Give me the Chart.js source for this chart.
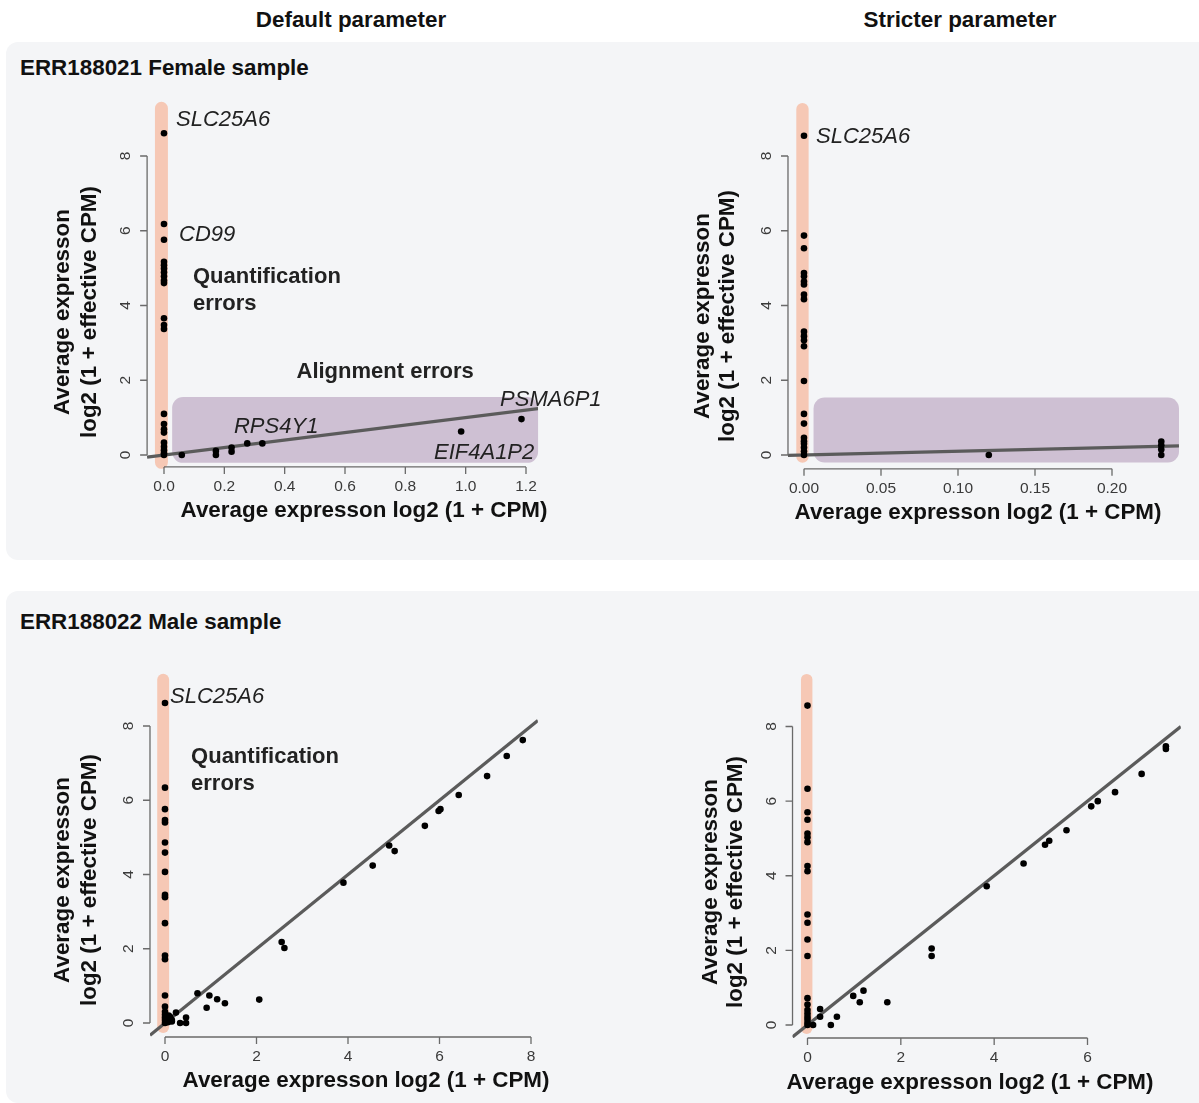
<!DOCTYPE html>
<html>
<head>
<meta charset="utf-8">
<script src="https://cdn.jsdelivr.net/npm/chart.js@4.4.0/dist/chart.umd.min.js"></script>
<style>
  body { margin: 0; background: #fff; font-family: "Liberation Sans", Arial, sans-serif; }
  #page { position: relative; width: 1199px; height: 1103px; overflow: hidden; }
  .panel { position: absolute; left: 6px; width: 1220px; background: #f4f5f7; border-radius: 12px; }
  .head { position: absolute; font-weight: bold; font-size: 22.4px; line-height: 24px; color: #111; white-space: nowrap; }
  .center { transform: translateX(-50%); }
  canvas { position: absolute; left: 0; top: 0; }
</style>
</head>
<body>
<div id="page">
  <div class="panel" style="top:42px;height:518px"></div>
  <div class="panel" style="top:591px;height:512px"></div>
  <div class="head center" style="left:351px;top:8px">Default parameter</div>
  <div class="head center" style="left:960px;top:8px">Stricter parameter</div>
  <div class="head" style="left:20px;top:56px">ERR188021 Female sample</div>
  <div class="head" style="left:20px;top:610px">ERR188022 Male sample</div>
  <canvas id="c1" width="1199" height="1103"></canvas>
  <canvas id="c2" width="1199" height="1103"></canvas>
  <canvas id="c3" width="1199" height="1103"></canvas>
  <canvas id="c4" width="1199" height="1103"></canvas>
</div>
<script>
// ---- data ----
const xTitle = 'Average expresson log2 (1 + CPM)';
const yTitle = ['Average expresson', 'log2 (1 + effective CPM)'];
const yTicks = [0, 2, 4, 6, 8];

// ERR188021 female, default parameter
const femaleDefaultX = [0, 0, 0, 0, 0, 0, 0, 0, 0, 0, 0, 0, 0, 0, 0, 0, 0, 0, 0, 0, 0, 0,
  0.059, 0.172, 0.172, 0.224, 0.224, 0.276, 0.326, 0.985, 1.185];
const femaleDefaultY = [8.61, 6.18, 5.76, 5.17, 5.08, 4.99, 4.89, 4.78, 4.67, 4.60, 3.66, 3.48, 3.37,
  1.10, 0.83, 0.69, 0.60, 0.33, 0.22, 0.13, 0.05, 0,
  0, 0.11, 0, 0.20, 0.09, 0.31, 0.31, 0.63, 0.96];
const femaleDefaultXTicks = [0, 0.2, 0.4, 0.6, 0.8, 1.0, 1.2];
const femaleDefaultXLabels = ['0.0', '0.2', '0.4', '0.6', '0.8', '1.0', '1.2'];

// ERR188021 female, stricter parameter
const femaleStrictX = [0, 0, 0, 0, 0, 0, 0, 0, 0, 0, 0, 0, 0, 0, 0, 0, 0, 0, 0, 0, 0, 0,
  0.120, 0.232, 0.232, 0.232, 0.232];
const femaleStrictY = [8.54, 5.87, 5.53, 4.87, 4.78, 4.64, 4.56, 4.29, 4.17, 3.30, 3.18, 3.07, 2.91,
  1.98, 1.10, 0.84, 0.46, 0.37, 0.30, 0.20, 0.10, 0,
  0, 0.36, 0.26, 0.15, 0];
const femaleStrictXTicks = [0, 0.05, 0.10, 0.15, 0.20];
const femaleStrictXLabels = ['0.00', '0.05', '0.10', '0.15', '0.20'];

// ERR188022 male, default parameter
const maleDefaultX = [0, 0, 0, 0, 0, 0, 0, 0, 0, 0, 0, 0, 0, 0, 0, 0, 0, 0, 0, 0,
  0.05, 0.08, 0.10, 0.12, 0.06, 0.15, 0.11, 0.15, 0.24, 0.33, 0.46, 0.46,
  0.71, 0.91, 0.97, 1.14, 1.31, 2.06, 2.55, 2.61, 3.90, 4.54, 4.90, 5.02,
  5.68, 5.98, 6.02, 6.42, 7.04, 7.47, 7.82];
const maleDefaultY = [8.62, 6.34, 5.76, 5.47, 5.40, 4.86, 4.59, 4.07, 3.45, 3.39, 2.69, 1.82, 1.72,
  0.74, 0.44, 0.30, 0.22, 0.15, 0.08, 0,
  0.10, 0.20, 0.05, 0.12, 0.02, 0.08, 0.17, 0.04, 0.28, 0, 0.15, 0,
  0.80, 0.41, 0.74, 0.64, 0.53, 0.63, 2.18, 2.02, 3.78, 4.24, 4.78, 4.63,
  5.31, 5.71, 5.76, 6.14, 6.65, 7.19, 7.62];
const maleDefaultXTicks = [0, 2, 4, 6, 8];
const maleDefaultXLabels = ['0', '2', '4', '6', '8'];

// ERR188022 male, stricter parameter
const maleStrictX = [0, 0, 0, 0, 0, 0, 0, 0, 0, 0, 0, 0, 0, 0, 0, 0, 0, 0, 0, 0, 0,
  0.12, 0.27, 0.27, 0.50, 0.63, 0.98, 1.12, 1.20, 1.71, 2.66, 2.66, 3.84,
  4.63, 5.09, 5.18, 5.55, 6.08, 6.22, 6.59, 7.16, 7.68, 7.68];
const maleStrictY = [8.56, 6.33, 5.70, 5.50, 5.13, 5.03, 4.90, 4.26, 4.12, 2.96, 2.74, 2.29, 1.85,
  0.72, 0.55, 0.40, 0.31, 0.22, 0.15, 0.06, 0,
  0, 0.43, 0.22, 0, 0.22, 0.78, 0.61, 0.92, 0.61, 2.05, 1.85, 3.72,
  4.33, 4.83, 4.94, 5.22, 5.86, 6.00, 6.24, 6.73, 7.47, 7.40];
const maleStrictXTicks = [0, 2, 4, 6];
const maleStrictXLabels = ['0', '2', '4', '6'];

// ---- styling / placement ----
const FONT = '"Liberation Sans", Arial, sans-serif';
const ORANGE = '#f6c8b5';
const PURPLE = '#cec0d3';

const panels = [
  {
    id: 'c1', xs: femaleDefaultX, ys: femaleDefaultY,
    xTicks: femaleDefaultXTicks, xLabels: femaleDefaultXLabels,
    xMap: [0, 164, 1.2, 526], yMap: [0, 455, 8, 156],
    xRange: [-0.056, 1.24], yRange: [-0.32, 9.5],
    band: [-0.03, 0.013, -0.37, 9.45],
    box: [0.027, 1.24, -0.21, 1.55],
    yTitleX: [63, 90], yTitleY: 312, xTitlePos: [364, 511],
    notes: [
      { text: 'SLC25A6', x: 0.04, y: 8.96, italic: true },
      { text: 'CD99', x: 0.05, y: 5.9, italic: true },
      { text: 'Quantification', x: 0.096, y: 4.76 },
      { text: 'errors', x: 0.096, y: 4.04 },
      { text: 'Alignment errors', x: 0.733, y: 2.22, align: 'center' },
      { text: 'RPS4Y1', x: 0.232, y: 0.75, italic: true },
      { text: 'PSMA6P1', x: 1.114, y: 1.47, italic: true },
      { text: 'EIF4A1P2', x: 0.895, y: 0.05, italic: true }
    ]
  },
  {
    id: 'c2', xs: femaleStrictX, ys: femaleStrictY,
    xTicks: femaleStrictXTicks, xLabels: femaleStrictXLabels,
    xMap: [0, 804, 0.2, 1112], yMap: [0, 455, 8, 156],
    xRange: [-0.0104, 0.2435], yRange: [-0.37, 9.5],
    band: [-0.005, 0.003, -0.21, 9.42],
    box: [0.0062, 0.2435, -0.2, 1.54],
    yTitleX: [703, 728], yTitleY: 316, xTitlePos: [978, 513],
    notes: [
      { text: 'SLC25A6', x: 0.0078, y: 8.5, italic: true }
    ]
  },
  {
    id: 'c3', xs: maleDefaultX, ys: maleDefaultY,
    xTicks: maleDefaultXTicks, xLabels: maleDefaultXLabels,
    xMap: [0, 165, 8, 531], yMap: [0, 1023, 8, 726],
    xRange: [-0.328, 8.15], yRange: [-0.377, 9.45],
    band: [-0.17, 0.09, -0.27, 9.41],
    box: null,
    yTitleX: [63, 90], yTitleY: 880, xTitlePos: [366, 1081],
    notes: [
      { text: 'SLC25A6', x: 0.11, y: 8.79, italic: true },
      { text: 'Quantification', x: 0.57, y: 7.17 },
      { text: 'errors', x: 0.57, y: 6.44 }
    ]
  },
  {
    id: 'c4', xs: maleStrictX, ys: maleStrictY,
    xTicks: maleStrictXTicks, xLabels: maleStrictXLabels,
    xMap: [0, 807.5, 6, 1087.5], yMap: [0, 1025, 8, 726.5],
    xRange: [-0.321, 8.0], yRange: [-0.349, 9.45],
    band: [-0.14, 0.105, -0.24, 9.41],
    box: null,
    yTitleX: [711, 736], yTitleY: 882, xTitlePos: [970, 1083],
    notes: []
  }
];

function mapPx(m, v) {
  return m[1] + (v - m[0]) * (m[3] - m[1]) / (m[2] - m[0]);
}

function roundRect(ctx, x, y, w, h, r) {
  ctx.beginPath();
  ctx.moveTo(x + r, y);
  ctx.arcTo(x + w, y, x + w, y + h, r);
  ctx.arcTo(x + w, y + h, x, y + h, r);
  ctx.arcTo(x, y + h, x, y, r);
  ctx.arcTo(x, y, x + w, y, r);
  ctx.closePath();
}

const regionsPlugin = {
  id: 'regions',
  beforeDatasetsDraw(chart, args, opts) {
    const p = opts.panel;
    const ctx = chart.ctx;
    const sx = chart.scales.x, sy = chart.scales.y;
    ctx.save();
    if (p.box) {
      const x0 = sx.getPixelForValue(p.box[0]), x1 = sx.getPixelForValue(p.box[1]);
      const y0 = sy.getPixelForValue(p.box[3]), y1 = sy.getPixelForValue(p.box[2]);
      ctx.fillStyle = PURPLE;
      roundRect(ctx, x0, y0, x1 - x0, y1 - y0, 11);
      ctx.fill();
    }
    const bx0 = sx.getPixelForValue(p.band[0]), bx1 = sx.getPixelForValue(p.band[1]);
    const by0 = sy.getPixelForValue(p.band[3]), by1 = sy.getPixelForValue(p.band[2]);
    ctx.fillStyle = ORANGE;
    roundRect(ctx, bx0, by0, bx1 - bx0, by1 - by0, (bx1 - bx0) / 2);
    ctx.fill();
    ctx.restore();
  },
  afterDatasetsDraw(chart, args, opts) {
    const p = opts.panel;
    const ctx = chart.ctx;
    const sx = chart.scales.x, sy = chart.scales.y;
    const area = chart.chartArea;
    ctx.save();
    // R style axes: lines only span the tick range
    ctx.strokeStyle = '#6a6a6a';
    ctx.lineWidth = 1.3;
    const ax = area.left, ay = area.bottom;
    ctx.beginPath();
    ctx.moveTo(ax, sy.getPixelForValue(yTicks[0]));
    ctx.lineTo(ax, sy.getPixelForValue(yTicks[yTicks.length - 1]));
    yTicks.forEach(t => {
      const y = sy.getPixelForValue(t);
      ctx.moveTo(ax, y); ctx.lineTo(ax - 7, y);
    });
    ctx.moveTo(sx.getPixelForValue(p.xTicks[0]), ay);
    ctx.lineTo(sx.getPixelForValue(p.xTicks[p.xTicks.length - 1]), ay);
    p.xTicks.forEach(t => {
      const x = sx.getPixelForValue(t);
      ctx.moveTo(x, ay); ctx.lineTo(x, ay + 7);
    });
    ctx.stroke();

    ctx.fillStyle = '#3a3a3a';
    ctx.font = '15.5px ' + FONT;
    ctx.textAlign = 'center';
    ctx.textBaseline = 'middle';
    p.xTicks.forEach((t, i) => {
      ctx.fillText(p.xLabels[i], sx.getPixelForValue(t), ay + 20);
    });
    yTicks.forEach(t => {
      ctx.save();
      ctx.translate(ax - 21, sy.getPixelForValue(t));
      ctx.rotate(-Math.PI / 2);
      ctx.fillText(String(t), 0, 0);
      ctx.restore();
    });

    // axis titles
    ctx.fillStyle = '#111';
    ctx.font = 'bold 22.4px ' + FONT;
    ctx.fillText(xTitle, p.xTitlePos[0], p.xTitlePos[1]);
    yTitle.forEach((line, i) => {
      ctx.save();
      ctx.translate(p.yTitleX[i], p.yTitleY);
      ctx.rotate(-Math.PI / 2);
      ctx.fillText(line, 0, 0);
      ctx.restore();
    });

    // annotations
    ctx.fillStyle = '#222';
    p.notes.forEach(n => {
      ctx.font = (n.italic ? 'italic ' : 'bold ') + '22px ' + FONT;
      ctx.textAlign = n.align || 'left';
      ctx.fillText(n.text, sx.getPixelForValue(n.x), sy.getPixelForValue(n.y));
    });
    ctx.restore();
  }
};

panels.forEach(p => {
  const left = mapPx(p.xMap, p.xRange[0]);
  const right = mapPx(p.xMap, p.xRange[1]);
  const top = mapPx(p.yMap, p.yRange[1]);
  const bottom = mapPx(p.yMap, p.yRange[0]);
  const points = p.xs.map((x, i) => ({ x: x, y: p.ys[i] }));
  new Chart(document.getElementById(p.id), {
    type: 'scatter',
    data: {
      datasets: [
        {
          type: 'line',
          data: [{ x: p.xRange[0], y: p.xRange[0] }, { x: p.xRange[1], y: p.xRange[1] }],
          borderColor: '#5b5b5b',
          borderWidth: 3.2,
          pointRadius: 0,
          order: 2
        },
        {
          data: points,
          backgroundColor: '#000',
          borderWidth: 0,
          pointRadius: 3.3,
          order: 1
        }
      ]
    },
    options: {
      responsive: false,
      animation: false,
      events: [],
      layout: { padding: { left: left, top: top, right: 1199 - right, bottom: 1103 - bottom } },
      scales: {
        x: { type: 'linear', min: p.xRange[0], max: p.xRange[1], display: false },
        y: { type: 'linear', min: p.yRange[0], max: p.yRange[1], display: false }
      },
      plugins: {
        legend: { display: false },
        tooltip: { enabled: false },
        regions: { panel: p }
      }
    },
    plugins: [regionsPlugin]
  });
});
</script>
</body>
</html>
